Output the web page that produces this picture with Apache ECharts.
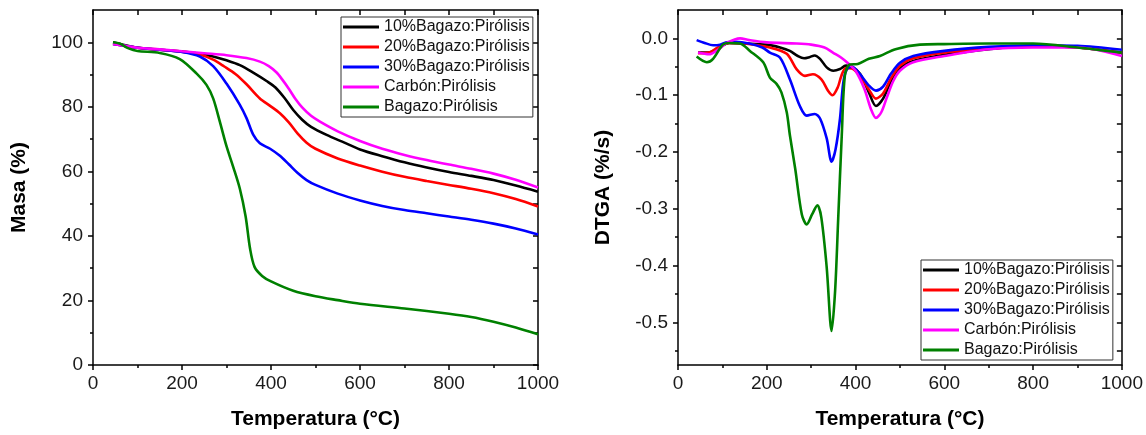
<!DOCTYPE html>
<html><head><meta charset="utf-8">
<script src="https://cdn.jsdelivr.net/npm/echarts@6/dist/echarts.min.js"></script>
<style>html,body{margin:0;padding:0;background:#fff}#c{width:1146px;height:435px}</style>
</head><body><div id="c"></div>
<script>
const seriesNames = ['10%Bagazo:Pirólisis','20%Bagazo:Pirólisis','30%Bagazo:Pirólisis','Carbón:Pirólisis','Bagazo:Pirólisis'];
const seriesColors = ['#000000','#ff0000','#0000ff','#ff00ff','#008000'];

// Left panel: TGA mass (%) vs temperature (°C)
const tga10 = [[45,100],[100,98.3],[150,97.7],[200,97.1],[240,96.4],[270,95.6],[300,94.4],[330,92.9],[360,90.6],[390,88],[410,86],[430,82.8],[450,79],[470,76],[490,73.8],[525,71.3],[560,69.2],[600,66.8],[650,64.7],[700,62.8],[750,61.2],[800,59.8],[850,58.6],[900,57.3],[950,55.6],[1000,53.7]];
const tga20 = [[45,99.5],[100,98.3],[150,97.7],[200,97.1],[240,96.2],[270,94.6],[295,92.5],[320,90.2],[345,87],[375,82.6],[398,80.3],[420,78],[440,75.2],[460,71.7],[480,68.9],[500,67],[550,64],[600,61.8],[650,59.9],[700,58.3],[750,57],[800,55.8],[850,54.6],[900,53.2],[950,51.4],[1000,49.1]];
const tga30 = [[45,99.5],[100,98.3],[150,97.7],[200,97],[240,95.6],[270,92.6],[300,87.2],[330,80.6],[345,76.5],[360,71.4],[375,68.7],[398,67],[420,64.8],[440,62.2],[460,59.5],[480,57.3],[500,55.8],[550,53.1],[600,51],[650,49.3],[700,48],[750,47],[800,46],[850,45],[900,43.8],[950,42.3],[1000,40.4]];
const tgaCarbon = [[45,99.5],[100,98.3],[150,97.8],[200,97.2],[250,96.6],[300,96],[345,95.1],[375,94],[395,92.6],[412,90.7],[425,88.5],[440,85.6],[455,82.4],[470,79.8],[490,77.2],[510,75.4],[550,72.4],[600,69.4],[650,67],[700,65.1],[750,63.5],[800,62.1],[850,60.8],[900,59.3],[950,57.4],[1000,55]];
const tgaBagazo = [[45,100],[60,99.6],[80,98.1],[100,97.3],[150,96.7],[195,94.8],[233,90.3],[255,86.8],[270,82.6],[285,75.4],[300,67.8],[315,61.4],[330,54.6],[343,46],[353,36],[363,30.4],[380,27.6],[400,25.9],[450,23],[500,21.3],[550,20.1],[600,19],[700,17.5],[800,15.9],[850,14.9],[900,13.4],[950,11.6],[1000,9.5]];

// Right panel: DTGA (%/s) vs temperature (°C)
const dtg10 = [[45,-0.025],[70,-0.025],[90,-0.018],[115,-0.008],[150,-0.009],[200,-0.011],[230,-0.016],[252,-0.022],[270,-0.031],[284,-0.035],[296,-0.033],[308,-0.030],[320,-0.036],[335,-0.051],[350,-0.057],[365,-0.054],[378,-0.048],[392,-0.050],[410,-0.062],[430,-0.095],[446,-0.119],[462,-0.106],[480,-0.075],[500,-0.052],[530,-0.040],[600,-0.029],[700,-0.019],[800,-0.013],[900,-0.016],[1000,-0.025]];
const dtg20 = [[45,-0.026],[70,-0.025],[90,-0.016],[115,-0.008],[150,-0.009],[207,-0.016],[245,-0.027],[267,-0.054],[286,-0.066],[304,-0.063],[323,-0.072],[338,-0.092],[348,-0.100],[360,-0.086],[368,-0.066],[378,-0.052],[392,-0.053],[410,-0.066],[430,-0.090],[446,-0.106],[462,-0.097],[480,-0.070],[500,-0.048],[530,-0.035],[600,-0.025],[700,-0.018],[800,-0.013],[900,-0.016],[1000,-0.025]];
const dtg30 = [[42,-0.003],[60,-0.008],[79,-0.012],[95,-0.011],[109,-0.007],[130,-0.006],[160,-0.009],[190,-0.016],[207,-0.025],[230,-0.034],[252,-0.072],[275,-0.12],[290,-0.136],[308,-0.133],[320,-0.141],[335,-0.176],[346,-0.217],[355,-0.195],[365,-0.141],[372,-0.08],[380,-0.055],[392,-0.05],[410,-0.063],[430,-0.083],[446,-0.092],[462,-0.085],[480,-0.062],[500,-0.043],[530,-0.031],[600,-0.022],[700,-0.015],[800,-0.012],[900,-0.013],[1000,-0.020]];
const dtgCarbon = [[45,-0.025],[70,-0.028],[90,-0.02],[110,-0.008],[140,0.0],[160,-0.003],[200,-0.007],[267,-0.009],[300,-0.011],[330,-0.016],[349,-0.025],[368,-0.034],[385,-0.045],[400,-0.057],[420,-0.089],[435,-0.125],[446,-0.140],[458,-0.13],[470,-0.105],[485,-0.075],[500,-0.057],[530,-0.042],[600,-0.031],[700,-0.019],[800,-0.016],[900,-0.016],[1000,-0.031]];
const dtgBagazo = [[42,-0.032],[65,-0.042],[79,-0.036],[101,-0.011],[116,-0.008],[140,-0.009],[162,-0.022],[192,-0.042],[207,-0.069],[222,-0.080],[233,-0.095],[245,-0.13],[252,-0.17],[264,-0.229],[279,-0.31],[290,-0.3275],[302,-0.31],[314,-0.294],[323,-0.316],[335,-0.403],[346,-0.515],[354,-0.444],[361,-0.316],[369,-0.17],[376,-0.065],[387,-0.046],[405,-0.045],[430,-0.036],[455,-0.031],[490,-0.019],[545,-0.011],[600,-0.01],[700,-0.009],[800,-0.009],[900,-0.016],[1000,-0.025]];

// Tick values
const xMajorTicks = [0,200,400,600,800,1000];
const xMinorTicks = [100,300,500,700,900];
const xAllTicks = [0,100,200,300,400,500,600,700,800,900,1000];
const tgaMajorTicks = [0,20,40,60,80,100];
const tgaMinorTicks = [10,30,50,70,90];
const tgaAllTicks = [0,10,20,30,40,50,60,70,80,90,100];
const dtgMajorTicks = [0,-0.1,-0.2,-0.3,-0.4,-0.5];
const dtgMinorTicks = [-0.05,-0.15,-0.25,-0.35,-0.45,-0.55];
const dtgAllTicks = [0,-0.05,-0.1,-0.15,-0.2,-0.25,-0.3,-0.35,-0.4,-0.45,-0.5,-0.55];

const leftData = [tga10, tga20, tga30, tgaCarbon, tgaBagazo];
const rightData = [dtg10, dtg20, dtg30, dtgCarbon, dtgBagazo];

const FONT = 'Liberation Sans, Arial, sans-serif';
const AX = {color:'#000', width:1.5};
const labelStyle = {color:'#1a1a1a', fontSize:19, fontFamily:FONT};
const nameStyle = {color:'#000', fontSize:21, fontWeight:'bold', fontFamily:FONT};

function mainX(grid, min, max, name){
  return {type:'value', gridIndex:grid, position:'bottom', min, max,
    axisLine:{show:true, onZero:false, lineStyle:AX},
    axisTick:{show:true, length:5, inside:false, customValues:xMajorTicks, lineStyle:AX},
    axisLabel:{show:true, margin:9, customValues:xMajorTicks, formatter:v=>String(Math.round(v)), ...labelStyle},
    splitLine:{show:false},
    name, nameLocation:'middle', nameGap:44, nameTextStyle:nameStyle};
}
function tickAxisX(grid, min, max, pos, values, len, inside){
  return {type:'value', gridIndex:grid, position:pos, min, max,
    axisLine:{show:pos==='top', onZero:false, lineStyle:AX},
    axisTick:{show:true, length:len, inside, customValues:values, lineStyle:AX},
    axisLabel:{show:false}, splitLine:{show:false}};
}
function mainY(grid, min, max, name, ticks, fmt, gap){
  return {type:'value', gridIndex:grid, position:'left', min, max,
    axisLine:{show:true, onZero:false, lineStyle:AX},
    axisTick:{show:true, length:5, inside:false, customValues:ticks, lineStyle:AX},
    axisLabel:{show:true, margin:10, customValues:ticks, formatter:fmt, ...labelStyle},
    splitLine:{show:false},
    name, nameLocation:'middle', nameGap:gap, nameTextStyle:nameStyle};
}
function tickAxisY(grid, min, max, pos, values, len, inside){
  return {type:'value', gridIndex:grid, position:pos, min, max,
    axisLine:{show:pos==='right', onZero:false, lineStyle:AX},
    axisTick:{show:true, length:len, inside, customValues:values, lineStyle:AX},
    axisLabel:{show:false}, splitLine:{show:false}};
}

const series = [];
leftData.forEach((d,i)=>series.push({name:seriesNames[i], type:'line', xAxisIndex:0, yAxisIndex:0, data:d,
  showSymbol:false, smooth:0.3, lineStyle:{width:2.6, color:seriesColors[i]}, itemStyle:{color:seriesColors[i]}, z:3}));
rightData.forEach((d,i)=>series.push({name:seriesNames[i], type:'line', xAxisIndex:3, yAxisIndex:3, data:d,
  showSymbol:false, smooth:0.3, lineStyle:{width:2.6, color:seriesColors[i]}, itemStyle:{color:seriesColors[i]}, z:3}));

const legendBase = {orient:'vertical', icon:'rect', itemWidth:36, itemHeight:3, itemGap:0,
  padding:[0,3,0,2], borderColor:'#333', borderWidth:1, backgroundColor:'#fff', selectedMode:false,
  textStyle:{fontSize:16, fontFamily:FONT, color:'#111', lineHeight:20}, data:seriesNames};

const option = {
  animation:false,
  backgroundColor:'#fff',
  grid:[
    {left:93, right:608, top:10, bottom:67},
    {left:678, right:24, top:10, bottom:67}
  ],
  legend:[
    {...legendBase, left:341, top:17},
    {...legendBase, left:921, top:260}
  ],
  xAxis:[
    mainX(0,0,1000,'Temperatura (°C)'),
    tickAxisX(0,0,1000,'bottom',xMinorTicks,3,false),
    tickAxisX(0,0,1000,'top',xAllTicks,5,true),
    mainX(1,0,1000,'Temperatura (°C)'),
    tickAxisX(1,0,1000,'bottom',xMinorTicks,3,false),
    tickAxisX(1,0,1000,'top',xAllTicks,5,true)
  ],
  yAxis:[
    mainY(0,0,110,'Masa (%)',tgaMajorTicks,v=>String(Math.round(v)),63),
    tickAxisY(0,0,110,'left',tgaMinorTicks,3,false),
    tickAxisY(0,0,110,'right',tgaAllTicks,5,true),
    mainY(1,-0.575,0.05,'DTGA (%/s)',dtgMajorTicks,v=>(Math.abs(v)<1e-9?0:v).toFixed(1),64),
    tickAxisY(1,-0.575,0.05,'left',dtgMinorTicks,3,false),
    tickAxisY(1,-0.575,0.05,'right',dtgAllTicks,5,true)
  ],
  series
};
const chart = echarts.init(document.getElementById('c'), null, {renderer:'canvas'});
chart.setOption(option);
</script></body></html>
